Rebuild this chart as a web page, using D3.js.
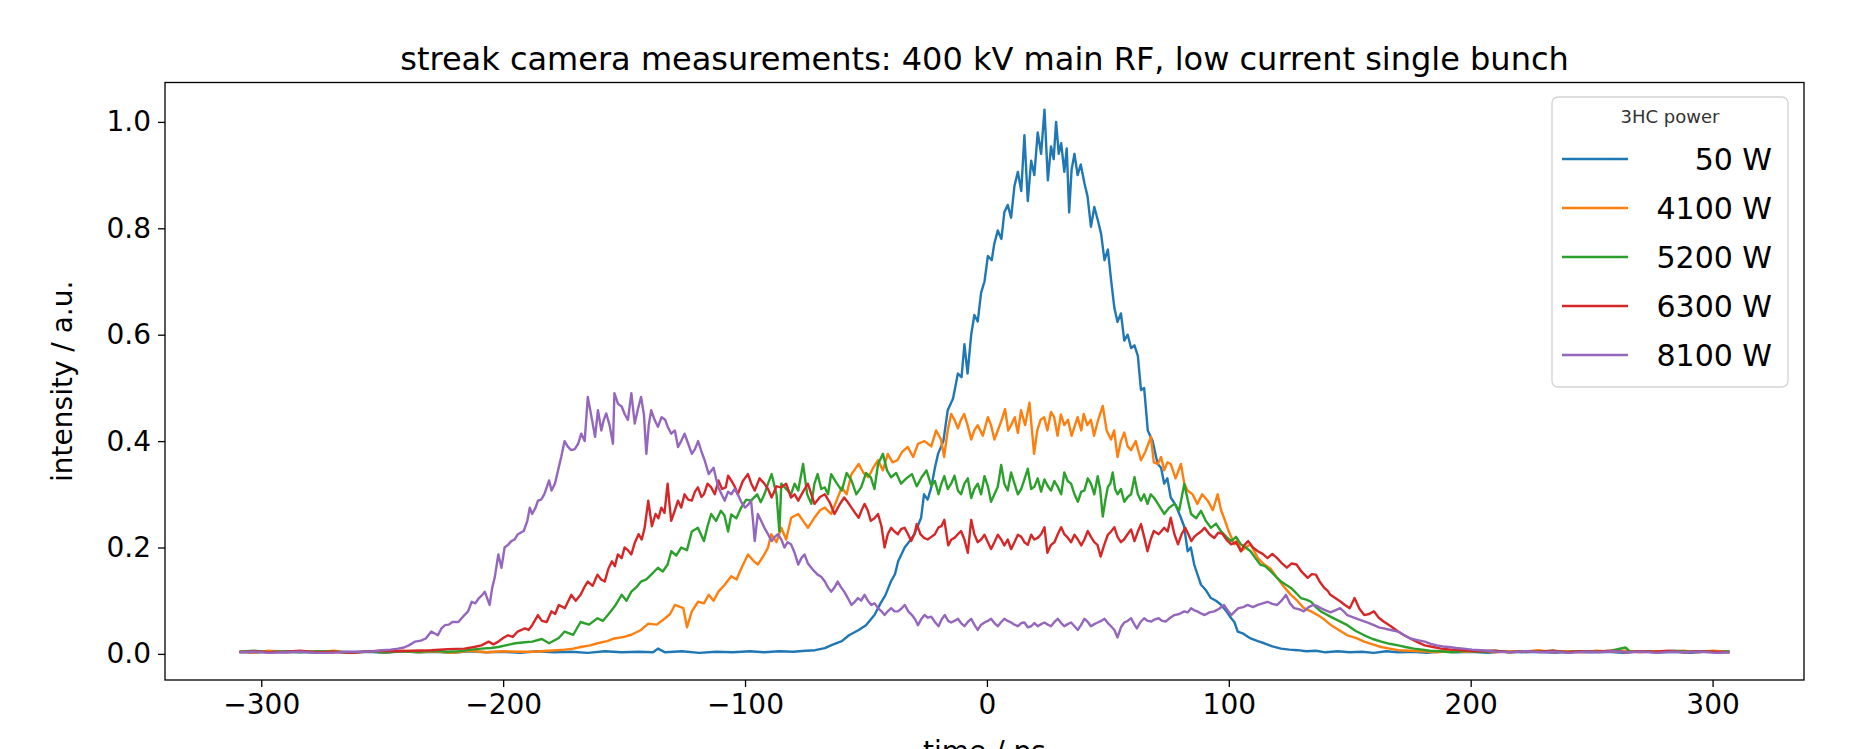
<!DOCTYPE html>
<html>
<head>
<meta charset="utf-8">
<script src="https://cdn.jsdelivr.net/npm/d3@7"></script>
<style>
body { margin: 0; background: #fff; }
text { font-family: "DejaVu Sans", sans-serif; fill: #000; }
</style>
</head>
<body>
<div id="chart"></div>
<script>
// values: [time / ps, intensity / a.u.]
var seriesNames = ["50 W", "4100 W", "5200 W", "6300 W", "8100 W"];
var seriesColors = ["#1f77b4", "#ff7f0e", "#2ca02c", "#d62728", "#9467bd"];
var xTicks = [-300, -200, -100, 0, 100, 200, 300];
var yTicks = [0.0, 0.2, 0.4, 0.6, 0.8, 1.0];

var p50 = [[-309,0.004],[-303,0.002],[-297,0.005],[-290,0.003],[-284,0.004],[-277,0.002],[-270,0.005],[-263,0.003],[-256,0.004],[-249,0.002],[-242,0.005],[-235,0.003],[-228,0.004],[-221,0.002],[-214,0.005],[-207,0.003],[-200,0.004],[-193,0.002],[-186,0.005],[-179,0.003],[-172,0.004],[-165,0.002],[-158,0.005],[-151,0.003],[-144,0.004],[-138,0.003],[-136,0.010],[-133,0.003],[-126,0.005],[-119,0.002],[-112,0.004],[-105,0.003],[-98,0.005],[-92,0.003],[-86,0.005],[-80,0.004],[-75,0.006],[-71,0.007],[-67,0.011],[-64,0.017],[-60,0.024],[-57,0.035],[-53,0.045],[-50,0.054],[-46.5,0.073],[-44,0.095],[-42,0.110],[-39.6,0.137],[-38,0.150],[-36.7,0.174],[-34,0.200],[-32,0.212],[-30,0.225],[-27.2,0.256],[-26,0.300],[-24.5,0.290],[-23,0.313],[-21.5,0.350],[-20.2,0.376],[-18,0.400],[-16.2,0.458],[-14,0.480],[-12,0.527],[-10.5,0.520],[-9.3,0.582],[-8,0.527],[-6.5,0.600],[-5.2,0.637],[-3.8,0.625],[-2.4,0.679],[-1,0.700],[0.4,0.748],[2,0.740],[3,0.770],[4.5,0.796],[6,0.780],[7.2,0.830],[8.6,0.844],[10,0.820],[11.4,0.880],[12.8,0.906],[14.2,0.870],[15.5,0.975],[16.9,0.851],[18.3,0.927],[19.6,0.900],[21,0.980],[22.4,0.940],[23.8,1.023],[25.2,0.890],[26.5,0.954],[27.6,0.930],[28.6,1.000],[29.7,0.940],[30.7,0.960],[32,0.906],[33,0.950],[34,0.830],[35,0.910],[36.2,0.940],[37.5,0.900],[38.8,0.920],[40.3,0.885],[41.6,0.860],[43,0.803],[44.4,0.840],[45.8,0.816],[47.2,0.790],[48.6,0.740],[50,0.760],[51.4,0.700],[52.7,0.650],[54,0.624],[55.4,0.640],[56.8,0.589],[58.2,0.600],[59.6,0.575],[61,0.580],[62.4,0.560],[63.7,0.496],[65,0.500],[66.5,0.420],[68.5,0.400],[70.6,0.357],[72,0.350],[73.3,0.320],[74.6,0.330],[76,0.294],[78,0.280],[80.2,0.256],[81.5,0.240],[83,0.193],[84.3,0.200],[85.7,0.168],[87,0.150],[88.5,0.130],[90.5,0.120],[92.6,0.105],[94.7,0.100],[96.7,0.093],[99,0.080],[101,0.067],[102.3,0.060],[103.7,0.042],[106,0.038],[109,0.029],[112,0.024],[114.7,0.020],[118,0.014],[121.6,0.010],[125,0.008],[128.5,0.007],[132,0.005],[136,0.006],[140,0.003],[145,0.005],[150,0.003],[155,0.004],[160,0.002],[165,0.005],[170,0.003],[176,0.004],[182,0.002],[188,0.005],[194,0.003],[200,0.004],[207,0.002],[214,0.005],[221,0.003],[228,0.004],[235,0.002],[242,0.005],[249,0.003],[256,0.004],[263,0.002],[270,0.005],[277,0.003],[284,0.004],[291,0.002],[298,0.005],[303,0.003],[307,0.004]];

var p4100 = [[-309,0.005],[-303,0.002],[-297,0.006],[-290,0.003],[-284,0.005],[-277,0.003],[-270,0.006],[-263,0.002],[-256,0.005],[-249,0.003],[-242,0.006],[-235,0.003],[-228,0.005],[-221,0.002],[-214,0.006],[-207,0.003],[-200,0.005],[-194,0.004],[-188,0.004],[-181,0.006],[-174.6,0.008],[-171,0.010],[-168,0.013],[-164,0.016],[-161,0.020],[-157,0.024],[-154,0.029],[-150,0.032],[-147,0.036],[-143,0.045],[-140,0.057],[-136.5,0.055],[-133,0.067],[-131,0.075],[-129,0.092],[-125.5,0.086],[-124,0.050],[-122,0.080],[-119.4,0.098],[-117,0.095],[-115,0.111],[-113,0.100],[-111,0.117],[-108.4,0.130],[-105.7,0.146],[-103.5,0.140],[-101.6,0.160],[-98.8,0.187],[-96.5,0.175],[-94.7,0.168],[-92,0.187],[-90.5,0.200],[-89.2,0.225],[-87,0.210],[-85,0.237],[-83,0.215],[-80.9,0.256],[-78,0.263],[-76,0.250],[-74,0.237],[-71.3,0.256],[-69,0.270],[-67,0.275],[-64.4,0.263],[-62,0.290],[-60,0.313],[-58,0.300],[-56,0.338],[-53,0.357],[-51,0.340],[-49,0.332],[-47,0.350],[-45,0.364],[-43,0.345],[-41,0.376],[-39,0.360],[-37,0.364],[-35,0.380],[-32.7,0.389],[-30.5,0.370],[-28.5,0.395],[-25.8,0.400],[-23,0.390],[-21,0.420],[-19,0.403],[-17.7,0.370],[-16.2,0.420],[-14.8,0.451],[-13.4,0.440],[-12,0.424],[-10.7,0.440],[-9.4,0.451],[-8,0.430],[-6.5,0.403],[-5.2,0.420],[-3.8,0.430],[-1.7,0.410],[0.4,0.445],[1.7,0.430],[3.1,0.403],[4.5,0.420],[5.9,0.437],[7.5,0.460],[8.8,0.420],[10,0.430],[11.5,0.445],[12.8,0.415],[14.1,0.458],[15.8,0.430],[17.6,0.472],[19.5,0.376],[20.8,0.420],[22.2,0.440],[23.7,0.445],[25,0.420],[26.5,0.455],[27.8,0.445],[29.2,0.410],[30.6,0.450],[32,0.430],[33.5,0.440],[35,0.410],[36,0.424],[37.5,0.445],[39,0.420],[40,0.451],[41.5,0.430],[43,0.440],[44.3,0.410],[46,0.440],[47.9,0.466],[49.5,0.420],[51.3,0.403],[52.6,0.420],[54,0.370],[55.4,0.400],[56.8,0.416],[58.2,0.390],[59.6,0.383],[61.5,0.400],[63.7,0.364],[65.5,0.380],[67.8,0.408],[69,0.360],[70.6,0.357],[72,0.370],[73.3,0.345],[74.6,0.360],[76,0.357],[78,0.330],[80.2,0.357],[81.6,0.320],[83,0.307],[85,0.300],[87,0.282],[89,0.300],[91.3,0.288],[93.4,0.270],[95.4,0.300],[96.8,0.270],[98,0.256],[100,0.230],[102.3,0.206],[103.6,0.215],[105,0.193],[107,0.200],[109,0.206],[112,0.180],[114.7,0.168],[117.3,0.160],[120,0.143],[123,0.125],[125.7,0.111],[128.3,0.100],[131,0.086],[134,0.080],[136.7,0.073],[139.4,0.065],[142,0.055],[145.5,0.045],[149,0.035],[152.5,0.030],[156,0.023],[159.5,0.018],[163,0.013],[166.5,0.010],[170,0.007],[175,0.006],[180,0.005],[186,0.003],[192,0.006],[198,0.004],[204,0.006],[210,0.003],[216,0.005],[222,0.004],[228,0.007],[234,0.003],[240,0.005],[246,0.003],[252,0.006],[258,0.004],[264,0.006],[270,0.003],[276,0.005],[282,0.004],[288,0.006],[294,0.003],[300,0.006],[307,0.004]];

var p5200 = [[-309,0.004],[-303,0.006],[-297,0.003],[-290,0.005],[-284,0.003],[-277,0.005],[-270,0.004],[-263,0.002],[-256,0.005],[-249,0.003],[-242,0.005],[-235,0.004],[-228,0.006],[-223,0.004],[-218.6,0.005],[-213,0.008],[-209,0.010],[-205,0.011],[-202,0.013],[-198,0.017],[-195,0.020],[-191,0.022],[-188,0.023],[-184,0.028],[-181,0.020],[-177,0.030],[-174.6,0.042],[-171,0.036],[-168,0.060],[-164.5,0.055],[-161,0.067],[-158.8,0.062],[-156.7,0.073],[-153.8,0.090],[-151,0.111],[-149,0.100],[-147,0.117],[-145,0.125],[-143,0.136],[-140.8,0.140],[-138.8,0.149],[-136,0.162],[-134,0.155],[-132,0.168],[-130.5,0.193],[-128.4,0.185],[-126.4,0.200],[-124,0.195],[-122,0.230],[-119.5,0.237],[-117,0.212],[-115.5,0.240],[-114,0.263],[-112,0.250],[-110,0.269],[-108.5,0.260],[-107,0.230],[-105.7,0.262],[-103.6,0.255],[-101.6,0.275],[-99.5,0.290],[-97.5,0.288],[-95,0.300],[-93.5,0.285],[-92,0.300],[-90.5,0.320],[-89,0.338],[-87,0.300],[-85.8,0.230],[-85,0.320],[-83,0.310],[-81,0.300],[-79.5,0.320],[-78,0.307],[-76,0.357],[-74.3,0.300],[-72.6,0.282],[-71.3,0.320],[-70,0.338],[-68.5,0.310],[-67,0.313],[-65.7,0.300],[-64.4,0.338],[-62,0.320],[-60,0.307],[-58,0.340],[-56,0.326],[-54,0.300],[-52,0.313],[-50,0.340],[-48,0.332],[-46.5,0.310],[-45,0.357],[-43,0.376],[-41.3,0.345],[-39.6,0.332],[-37.5,0.340],[-35.5,0.320],[-33.3,0.330],[-31,0.338],[-29,0.315],[-27,0.332],[-25,0.345],[-23,0.316],[-21.5,0.325],[-20,0.300],[-18.8,0.320],[-17.6,0.334],[-16.2,0.310],[-14.8,0.320],[-13.4,0.335],[-12,0.307],[-10.7,0.300],[-9.3,0.320],[-7.9,0.330],[-6.5,0.293],[-5.2,0.310],[-3.8,0.320],[-2.4,0.300],[-1,0.334],[0.4,0.315],[1.7,0.286],[3.1,0.300],[4.5,0.314],[5.9,0.355],[7.2,0.320],[8.6,0.307],[10,0.341],[11.4,0.320],[12.8,0.300],[14.2,0.310],[15.5,0.328],[16.9,0.348],[18.3,0.310],[19.6,0.314],[21,0.330],[22.4,0.305],[23.8,0.328],[25.2,0.315],[26.5,0.307],[27.9,0.325],[29.3,0.314],[30.7,0.300],[32,0.341],[33.4,0.325],[34.8,0.320],[36.2,0.300],[37.6,0.286],[39,0.305],[40.3,0.307],[41.7,0.330],[43,0.320],[44.4,0.300],[45.8,0.334],[46.8,0.310],[47.9,0.258],[49,0.290],[50,0.314],[51,0.320],[52,0.341],[53,0.310],[54,0.300],[55.4,0.310],[56.8,0.286],[58.2,0.295],[59.6,0.300],[61,0.332],[62.4,0.300],[63.7,0.288],[65,0.300],[66.4,0.282],[67.7,0.300],[69,0.294],[71,0.280],[73.3,0.263],[75.4,0.275],[77.5,0.282],[79.5,0.270],[81.6,0.320],[83,0.290],[84.4,0.263],[86.5,0.255],[88.5,0.269],[90.5,0.250],[92.6,0.237],[94.7,0.245],[96.7,0.231],[99,0.220],[101,0.212],[103,0.220],[105,0.206],[107,0.200],[109,0.193],[111,0.180],[113,0.168],[115,0.165],[117.4,0.155],[119.5,0.145],[121.6,0.136],[123.6,0.130],[125.7,0.124],[127.7,0.115],[129.8,0.105],[132,0.102],[134,0.098],[136,0.088],[138,0.080],[140,0.075],[142,0.070],[145.5,0.062],[149,0.054],[152.5,0.043],[156,0.035],[159.5,0.028],[163,0.023],[166.5,0.019],[170,0.016],[173,0.013],[176.5,0.010],[180,0.008],[183,0.006],[187,0.005],[192,0.003],[198,0.006],[204,0.004],[210,0.006],[216,0.003],[222,0.005],[228,0.004],[234,0.006],[240,0.003],[246,0.005],[252,0.004],[258,0.006],[264,0.012],[266,0.004],[272,0.005],[278,0.003],[284,0.006],[290,0.004],[296,0.005],[302,0.003],[307,0.005]];

var p6300 = [[-309,0.003],[-303,0.005],[-297,0.003],[-290,0.004],[-284,0.006],[-277,0.003],[-270,0.004],[-263,0.002],[-257,0.004],[-251,0.006],[-245,0.005],[-238,0.006],[-229.7,0.007],[-223,0.009],[-216,0.010],[-212,0.013],[-209,0.016],[-206,0.023],[-204,0.018],[-202,0.023],[-200,0.030],[-198,0.035],[-196,0.032],[-194,0.042],[-191,0.048],[-189.5,0.045],[-188,0.054],[-185.6,0.073],[-184,0.062],[-182,0.060],[-180,0.080],[-178.5,0.075],[-177,0.092],[-174.5,0.086],[-173,0.100],[-171.8,0.111],[-170,0.100],[-168,0.111],[-166.5,0.125],[-165,0.136],[-163,0.128],[-161,0.149],[-159.5,0.140],[-158,0.136],[-156.5,0.160],[-155,0.174],[-153.8,0.165],[-152.6,0.187],[-151,0.180],[-149.8,0.200],[-148.4,0.195],[-147,0.187],[-145.5,0.210],[-144,0.225],[-142.7,0.215],[-141.5,0.237],[-140,0.288],[-138.5,0.240],[-137,0.263],[-135.8,0.255],[-134.6,0.275],[-133.3,0.265],[-132,0.320],[-131.2,0.280],[-130.5,0.250],[-129,0.270],[-127.7,0.288],[-126.4,0.275],[-125,0.300],[-123.5,0.290],[-122,0.288],[-120.7,0.305],[-119.5,0.313],[-118,0.295],[-117,0.300],[-115.5,0.320],[-114,0.313],[-112.5,0.300],[-111,0.326],[-109.5,0.310],[-108,0.313],[-107,0.335],[-105.7,0.326],[-104.3,0.315],[-103,0.300],[-100.9,0.325],[-98.8,0.338],[-97.4,0.320],[-96,0.307],[-94,0.330],[-92,0.320],[-90.5,0.310],[-89,0.294],[-87,0.315],[-85,0.313],[-83,0.320],[-81,0.294],[-79.5,0.300],[-78,0.288],[-76,0.305],[-74,0.320],[-72.6,0.300],[-71.3,0.282],[-69,0.295],[-67,0.300],[-65,0.285],[-63,0.263],[-61,0.280],[-59,0.294],[-57.5,0.285],[-56,0.275],[-54.5,0.265],[-53,0.256],[-51.8,0.270],[-50.6,0.282],[-49.3,0.270],[-48,0.250],[-46.5,0.255],[-45,0.263],[-43.6,0.240],[-42.3,0.200],[-41,0.225],[-39.6,0.237],[-38.2,0.230],[-36.8,0.225],[-35.4,0.235],[-34,0.237],[-32.6,0.225],[-31.3,0.212],[-30,0.225],[-29,0.244],[-27.5,0.225],[-26,0.218],[-24.5,0.215],[-23,0.220],[-21.5,0.225],[-20,0.238],[-18.8,0.240],[-17.6,0.252],[-16,0.204],[-14.7,0.215],[-13.4,0.218],[-12,0.225],[-10.7,0.231],[-9.3,0.215],[-7.9,0.190],[-6.5,0.252],[-5.2,0.225],[-3.8,0.210],[-2.4,0.215],[-1,0.224],[0.4,0.210],[1.7,0.197],[3.1,0.210],[4.5,0.224],[5.9,0.215],[7.2,0.204],[8.6,0.215],[10,0.197],[11.4,0.210],[12.8,0.224],[14.2,0.220],[15.5,0.210],[16.9,0.205],[18.3,0.224],[19.6,0.215],[21,0.218],[22.4,0.225],[23.8,0.238],[25,0.190],[26.5,0.205],[27.9,0.210],[29.3,0.225],[30.7,0.238],[32,0.225],[33.5,0.218],[34.8,0.210],[36.2,0.224],[37.6,0.215],[39,0.204],[40.3,0.215],[41.7,0.231],[43,0.220],[44.4,0.210],[45.7,0.205],[47,0.183],[48.5,0.205],[50,0.224],[51.3,0.230],[52.7,0.238],[54,0.220],[55.4,0.210],[56.7,0.215],[58,0.224],[59.6,0.234],[61,0.212],[62.4,0.230],[63.7,0.244],[65,0.220],[66.4,0.193],[67.7,0.215],[69,0.231],[71,0.225],[73.3,0.237],[74.7,0.230],[76,0.256],[77.5,0.225],[79,0.206],[80.5,0.225],[82,0.237],[83.3,0.225],[84.5,0.212],[85.7,0.220],[87,0.225],[88.5,0.230],[90,0.237],[92,0.225],[94,0.218],[95.7,0.228],[97.5,0.225],[99,0.215],[101,0.206],[103,0.210],[105,0.193],[106.5,0.205],[108,0.212],[110,0.200],[112,0.193],[114,0.188],[116,0.180],[118,0.188],[120,0.180],[122,0.170],[124,0.162],[126,0.170],[128,0.168],[130,0.155],[132.6,0.143],[134.3,0.150],[136,0.149],[137.7,0.135],[139.5,0.124],[141,0.118],[142,0.111],[144,0.105],[146,0.099],[148,0.092],[150,0.086],[152,0.105],[154,0.085],[156,0.073],[158,0.075],[160,0.080],[162,0.068],[164,0.061],[167,0.052],[170,0.042],[172.5,0.035],[175,0.029],[178,0.022],[181,0.016],[184.5,0.013],[187.7,0.010],[192,0.008],[197,0.007],[203,0.005],[210,0.006],[216,0.003],[222,0.005],[228,0.004],[234,0.006],[240,0.003],[246,0.005],[252,0.004],[258,0.006],[264,0.003],[270,0.005],[276,0.004],[282,0.006],[288,0.003],[294,0.005],[300,0.004],[307,0.003]];

var p8100 = [[-309,0.003],[-303,0.004],[-297,0.002],[-290,0.003],[-284,0.004],[-277,0.002],[-271,0.002],[-264,0.004],[-257,0.004],[-253,0.005],[-250,0.007],[-246.5,0.008],[-243.5,0.010],[-241,0.012],[-239,0.016],[-236.5,0.023],[-234,0.025],[-232,0.029],[-229.7,0.042],[-227,0.035],[-225.5,0.048],[-224,0.054],[-222.5,0.055],[-221,0.060],[-218.5,0.060],[-216,0.073],[-214.5,0.080],[-213,0.098],[-211.5,0.095],[-210,0.105],[-208.8,0.110],[-207.6,0.117],[-205.6,0.092],[-204.5,0.125],[-203.5,0.143],[-202,0.187],[-200.7,0.162],[-199.4,0.200],[-198,0.205],[-196.6,0.212],[-195.3,0.215],[-193.9,0.225],[-191.5,0.231],[-190,0.250],[-189,0.275],[-188,0.263],[-186.6,0.275],[-185.6,0.288],[-184.3,0.290],[-183,0.300],[-181,0.326],[-180,0.307],[-178.6,0.320],[-177.3,0.345],[-176,0.370],[-174.6,0.400],[-173.2,0.389],[-171.8,0.383],[-170.4,0.385],[-169,0.395],[-167.7,0.414],[-166.3,0.400],[-165,0.483],[-163.5,0.446],[-162,0.408],[-160.8,0.458],[-159.4,0.420],[-158.4,0.440],[-157.4,0.452],[-156,0.430],[-154.6,0.395],[-154,0.490],[-152.5,0.470],[-151,0.465],[-149.7,0.450],[-148.4,0.440],[-147,0.490],[-145.6,0.433],[-144.3,0.460],[-143,0.483],[-141.8,0.450],[-140.8,0.376],[-139.8,0.430],[-138.8,0.458],[-137.4,0.440],[-136,0.427],[-134.5,0.445],[-133,0.440],[-131.8,0.425],[-130.5,0.414],[-129,0.420],[-127.7,0.389],[-126.4,0.400],[-125,0.414],[-123.5,0.395],[-122,0.376],[-120.7,0.385],[-119.4,0.400],[-118,0.380],[-116.7,0.364],[-115,0.338],[-113,0.350],[-112,0.330],[-111,0.313],[-109.7,0.300],[-108.4,0.288],[-107,0.305],[-105.7,0.300],[-104.3,0.310],[-103,0.300],[-101.5,0.285],[-100,0.275],[-98.8,0.280],[-97.5,0.288],[-96.7,0.250],[-96,0.212],[-95.3,0.240],[-94.7,0.263],[-93.3,0.250],[-92,0.237],[-90.5,0.225],[-89,0.212],[-87.7,0.220],[-86.4,0.225],[-85,0.215],[-83.7,0.200],[-82.4,0.210],[-81,0.206],[-79.5,0.190],[-78,0.168],[-76.7,0.180],[-75.4,0.187],[-74,0.170],[-72.6,0.162],[-71.3,0.155],[-70,0.149],[-68.5,0.145],[-67,0.136],[-65.7,0.125],[-64.4,0.117],[-63,0.125],[-61.7,0.136],[-60.3,0.125],[-59,0.117],[-57.5,0.105],[-56,0.092],[-54.6,0.098],[-53.3,0.105],[-52,0.100],[-50.6,0.111],[-49.2,0.100],[-47.8,0.092],[-46.4,0.095],[-45,0.086],[-43.6,0.080],[-42.3,0.073],[-41,0.080],[-39.6,0.086],[-38.2,0.080],[-36.8,0.080],[-35.4,0.085],[-34,0.092],[-32.5,0.080],[-31,0.073],[-29.7,0.065],[-28.5,0.054],[-27.2,0.065],[-25.8,0.073],[-24.4,0.068],[-23,0.070],[-21.5,0.060],[-20,0.052],[-18.7,0.065],[-17.4,0.073],[-16,0.062],[-14.8,0.059],[-13.4,0.062],[-12,0.066],[-10.7,0.058],[-9.3,0.052],[-7.9,0.060],[-6.5,0.066],[-5.2,0.055],[-3.8,0.045],[-2.4,0.055],[-1,0.059],[0.4,0.062],[1.7,0.066],[3.1,0.058],[4.5,0.052],[5.9,0.060],[7.2,0.066],[8.6,0.062],[10,0.059],[11.4,0.055],[12.8,0.052],[14.2,0.058],[15.5,0.059],[16.9,0.050],[18.3,0.052],[19.6,0.058],[21,0.052],[22.4,0.056],[23.8,0.059],[25.2,0.055],[26.5,0.052],[27.9,0.060],[29.3,0.066],[30.7,0.058],[32,0.052],[33.4,0.056],[34.8,0.059],[36.2,0.052],[37.6,0.045],[39,0.055],[40.3,0.066],[41.7,0.060],[43,0.052],[44.4,0.056],[45.8,0.059],[47.2,0.062],[48.6,0.066],[50,0.058],[51.3,0.052],[52.7,0.045],[54,0.031],[55.4,0.050],[56.8,0.059],[58.2,0.062],[59.6,0.067],[61,0.055],[62,0.048],[63.5,0.060],[65,0.067],[66.5,0.062],[68,0.061],[69.5,0.065],[71,0.067],[72.5,0.062],[74,0.061],[75.8,0.068],[77.5,0.073],[79.5,0.075],[81.6,0.080],[83,0.078],[84.4,0.086],[85.7,0.082],[87,0.080],[88.5,0.076],[90,0.073],[92,0.078],[94,0.080],[96,0.085],[98,0.092],[99.5,0.082],[101,0.073],[102.5,0.080],[104,0.086],[106,0.088],[107.7,0.092],[110,0.088],[112,0.092],[114,0.095],[116,0.098],[118,0.094],[120,0.092],[121.8,0.100],[123.6,0.111],[125.3,0.095],[127,0.086],[129,0.084],[131,0.080],[133,0.088],[135,0.092],[136.5,0.090],[138,0.086],[140,0.082],[142,0.078],[144,0.082],[146,0.086],[147.5,0.080],[149,0.073],[152.5,0.067],[156,0.061],[158,0.058],[160,0.054],[162,0.050],[164,0.048],[167,0.045],[170,0.042],[172.5,0.035],[175,0.029],[178,0.026],[181,0.023],[183.5,0.019],[186,0.016],[188.5,0.014],[191,0.013],[194,0.011],[197,0.010],[200.5,0.008],[204,0.007],[207.5,0.006],[211,0.004],[217,0.003],[223,0.005],[229,0.003],[235,0.004],[241,0.002],[247,0.004],[253,0.003],[259,0.005],[265,0.003],[271,0.004],[277,0.002],[283,0.004],[289,0.003],[295,0.004],[301,0.002],[307,0.003]];

var allSeries = [p50, p4100, p5200, p6300, p8100];

var svg, x, y, plotW, plotH;
var margin = {top: 82.5, right: 45, bottom: 69, left: 165};
var W = 1849, H = 749;

function padded(ext) {
    var span = ext[1] - ext[0];
    return [ext[0] - 0.05 * span, ext[1] + 0.05 * span];
}

function drawChart() {
    plotW = W - margin.left - margin.right;
    plotH = H - margin.top - margin.bottom;

    svg = d3.select("#chart")
    .append("svg")
        .attr("width", W)
        .attr("height", H)
    .append("g")
        .attr("transform", "translate(" + margin.left + "," + margin.top + ")");

    var allPts = d3.merge(allSeries);
    x = d3.scaleLinear()
        .domain(padded(d3.extent(allPts, function(d) { return d[0]; })))
        .range([0, plotW]);
    y = d3.scaleLinear()
        .domain(padded(d3.extent(allPts, function(d) { return d[1]; })))
        .range([plotH, 0]);

    svg.append("clipPath").attr("id", "clip")
    .append("rect")
        .attr("width", plotW)
        .attr("height", plotH);

    var line = d3.line()
        .x(function(d) { return x(d[0]); })
        .y(function(d) { return y(d[1]); });

    svg.append("g")
        .attr("clip-path", "url(#clip)")
    .selectAll("path")
    .data(allSeries)
    .enter()
    .append("path")
        .attr("d", line)
        .attr("fill", "none")
        .attr("stroke", function(d, i) { return seriesColors[i]; })
        .attr("stroke-width", 2.4)
        .attr("stroke-linejoin", "round");

    // axes
    var xAxis = svg.append("g")
        .attr("transform", "translate(0," + plotH + ")")
        .call(d3.axisBottom(x).tickValues(xTicks).tickSize(7).tickPadding(7).tickFormat(d3.format("d")));
    var yAxis = svg.append("g")
        .call(d3.axisLeft(y).tickValues(yTicks).tickSize(7).tickPadding(7).tickFormat(d3.format(".1f")));

    [xAxis, yAxis].forEach(function(a) {
        a.select(".domain").remove();
        a.selectAll(".tick line").attr("stroke", "#000").attr("stroke-width", 1.3);
        a.selectAll(".tick text").style("font-size", "28px").style("font-family", "DejaVu Sans");
    });

    svg.append("rect")
        .attr("width", plotW)
        .attr("height", plotH)
        .attr("fill", "none")
        .attr("stroke", "#000")
        .attr("stroke-width", 1.3);

    svg.append("text")
        .attr("x", plotW / 2)
        .attr("y", -13)
        .attr("text-anchor", "middle")
        .style("font-size", "32px")
        .text("streak camera measurements: 400 kV main RF, low current single bunch");

    // the x label sits partly below the picture's edge, as in the reference
    svg.append("text")
        .attr("x", plotW / 2)
        .attr("y", plotH + 81)
        .attr("text-anchor", "middle")
        .style("font-size", "28px")
        .text("time / ps");

    svg.append("text")
        .attr("transform", "rotate(-90)")
        .attr("x", -plotH / 2)
        .attr("y", -93)
        .attr("text-anchor", "middle")
        .style("font-size", "28px")
        .text("intensity / a.u.");

    drawLegend();
}

function drawLegend() {
    var lx = 1552 - margin.left, ly = 97 - margin.top;
    var lg = svg.append("g").attr("transform", "translate(" + lx + "," + ly + ")");

    lg.append("rect")
        .attr("width", 236)
        .attr("height", 290)
        .attr("rx", 6)
        .attr("fill", "#fff")
        .attr("fill-opacity", 0.8)
        .attr("stroke", "#d3d3d3")
        .attr("stroke-width", 1.3);

    lg.append("text")
        .attr("x", 118)
        .attr("y", 26)
        .attr("text-anchor", "middle")
        .style("font-size", "18px")
        .style("fill", "#333")
        .text("3HC power");

    var rows = lg.selectAll(".row")
        .data(seriesNames)
        .enter()
        .append("g")
        .attr("transform", function(d, i) { return "translate(0," + (62 + i * 49) + ")"; });

    rows.append("line")
        .attr("x1", 10).attr("x2", 76)
        .attr("stroke", function(d, i) { return seriesColors[i]; })
        .attr("stroke-width", 2.6);

    rows.append("text")
        .attr("x", 220)
        .attr("y", 11)
        .attr("text-anchor", "end")
        .style("font-size", "30px")
        .text(function(d) { return d; });
}

window.onload = drawChart;
</script>
</body>
</html>
